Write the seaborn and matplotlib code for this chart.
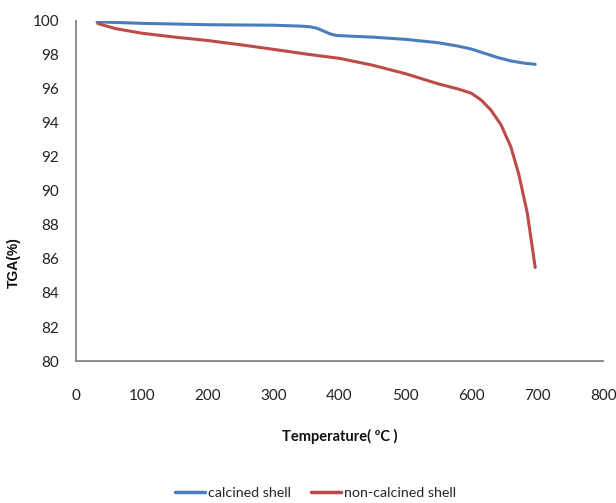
import matplotlib
matplotlib.use("Agg")
import matplotlib.pyplot as plt
import seaborn as sns
import pandas as pd

# calcined shell
temp_calcined = [32, 100, 200, 300, 340, 355, 365, 375, 385, 395, 420, 450, 500, 550, 580, 600, 620, 640, 660, 680, 697]
tga_calcined = [99.95, 99.86, 99.78, 99.75, 99.7, 99.66, 99.58, 99.42, 99.25, 99.15, 99.1, 99.05, 98.92, 98.72, 98.52, 98.35, 98.1, 97.85, 97.65, 97.52, 97.45]

# non-calcined shell
temp_raw = [33, 60, 100, 150, 200, 250, 300, 350, 400, 450, 500, 550, 580, 600, 615, 630, 645, 660, 672, 685, 697]
tga_raw = [99.85, 99.55, 99.28, 99.05, 98.85, 98.6, 98.33, 98.05, 97.8, 97.4, 96.9, 96.3, 96.0, 95.75, 95.35, 94.75, 93.9, 92.6, 91.0, 88.7, 85.5]

series_names = ["calcined shell", "non-calcined shell"]
x_ticks = list(range(0, 801, 100))
y_ticks = list(range(80, 101, 2))

df = pd.concat([
    pd.DataFrame({"temp": temp_calcined, "tga": tga_calcined, "sample": series_names[0]}),
    pd.DataFrame({"temp": temp_raw, "tga": tga_raw, "sample": series_names[1]}),
])

sns.set_style("white")
plt.rcParams['font.family'] = ['Lato', 'DejaVu Sans']

fig = plt.figure(figsize=(6.16, 5.03), dpi=100)
ax = fig.add_axes([0.1234, 0.2823, 0.8556, 0.6760])

palette = {series_names[0]: "#4A7EBB", series_names[1]: "#BE4B48"}
sns.lineplot(data=df, x="temp", y="tga", hue="sample", palette=palette,
             linewidth=2.2, ax=ax, sort=False, legend=False)

ax.set_xlim(0, 800)
ax.set_ylim(80, 100)
ax.set_xticks(x_ticks)
ax.set_yticks(y_ticks)
ax.tick_params(axis="both", direction="out", length=5, width=1, color="#868686",
               labelsize=11, labelcolor="#222222")
ax.tick_params(axis="x", pad=15)
ax.tick_params(axis="y", pad=7)
for side in ["top", "right"]:
    ax.spines[side].set_visible(False)
for side in ["left", "bottom"]:
    ax.spines[side].set_color("#868686")
    ax.spines[side].set_linewidth(1.3)

ax.set_xlabel("Temperature( ºC )", fontsize=10.5, fontweight="bold", color="#111111")
ax.xaxis.set_label_coords(0.5, -0.2)
ax.set_ylabel("TGA(%)", fontsize=10, fontweight="bold", color="#111111",
              family="Liberation Sans")
ax.yaxis.set_label_coords(-0.105, 0.29)

handles = [plt.Line2D([], [], color=palette[n], linewidth=2.5) for n in series_names]
fig.legend(handles, series_names, loc="center", bbox_to_anchor=(0.512, 0.02),
           ncol=2, frameon=False, fontsize=10.3, handlelength=2.1,
           handletextpad=0.2, columnspacing=1.4)

fig.savefig("out.png", dpi=100)
